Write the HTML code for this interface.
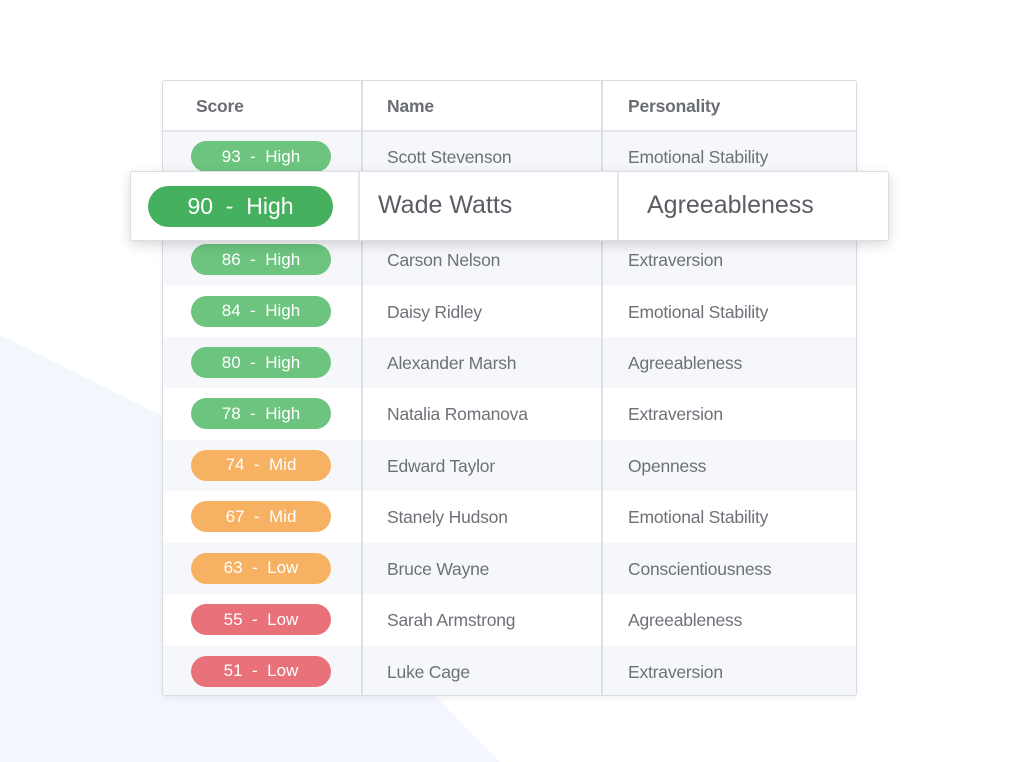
<!DOCTYPE html>
<html><head><meta charset="utf-8">
<style>
body{margin:0;width:1024px;height:762px;background:#fff;position:relative;overflow:hidden;font-family:"Liberation Sans",sans-serif;}
#bg{position:absolute;left:0;top:0}
#table{position:absolute;left:162px;top:80px;width:695px;height:616px;background:#fff;border:1px solid #d8dbe0;box-sizing:border-box;box-shadow:0 2px 6px rgba(0,0,0,0.06);border-radius:3px;overflow:hidden;z-index:1}
.row{position:absolute;left:0;width:695px;height:51.45px}
.cell{position:absolute;top:1px;height:100%;display:flex;align-items:center;color:#6d7177;font-size:17.5px;letter-spacing:-0.2px}
.vline{position:absolute;top:0;bottom:0;width:2px;background:#dcdfe4;z-index:2}
.hd{color:#6a6e74;font-size:17.5px;font-weight:bold;letter-spacing:-0.2px}
.pill{position:absolute;left:28px;width:140px;height:31px;border-radius:16px;color:#fff;font-size:17px;display:flex;align-items:center;justify-content:center;white-space:pre}
#popup{position:absolute;left:130px;top:171px;width:759px;height:70px;background:#fff;border:1px solid #dadde2;box-sizing:border-box;border-radius:3px;box-shadow:0 4px 12px rgba(0,0,0,0.15);z-index:10}
</style></head><body>
<svg id="bg" width="1024" height="762"><polygon points="0,335 160,415 435,696 500,762 0,762" fill="#f3f6fc"/></svg>
<div id="table">
  <div class="vline" style="left:198px"></div>
  <div class="vline" style="left:438px"></div>
  <div class="row" style="top:0;height:49px;border-bottom:2px solid #e3e5e9">
    <div class="cell hd" style="left:33px">Score</div>
    <div class="cell hd" style="left:224px">Name</div>
    <div class="cell hd" style="left:465px">Personality</div>
  </div>
</div>
<div id="popup">
  <div style="position:absolute;left:17px;top:14px;width:185px;height:41px;border-radius:21px;background:#45b15e;color:#fff;font-size:23px;display:flex;align-items:center;justify-content:center;white-space:pre">90  -  High</div>
  <div style="position:absolute;left:227px;top:0;bottom:0;width:2px;background:#e3e5e9"></div>
  <div style="position:absolute;left:486px;top:0;bottom:0;width:2px;background:#e3e5e9"></div>
  <div style="position:absolute;left:247px;top:0;height:66px;display:flex;align-items:center;font-size:25px;color:#5a5e64">Wade Watts</div>
  <div style="position:absolute;left:516px;top:0;height:66px;display:flex;align-items:center;font-size:25px;color:#5a5e64">Agreeableness</div>
</div>
<script>
const scores=[93,90,86,84,80,78,74,67,63,55,51];
const levels=["High","High","High","High","High","High","Mid","Mid","Low","Low","Low"];
const names=["Scott Stevenson","Wade Watts","Carson Nelson","Daisy Ridley","Alexander Marsh","Natalia Romanova","Edward Taylor","Stanely Hudson","Bruce Wayne","Sarah Armstrong","Luke Cage"];
const personalities=["Emotional Stability","Agreeableness","Extraversion","Emotional Stability","Agreeableness","Extraversion","Openness","Emotional Stability","Conscientiousness","Agreeableness","Extraversion"];
const table=document.getElementById('table');
const rowH=51.45;
for(let i=0;i<scores.length;i++){
  const r=document.createElement('div');
  r.className='row';
  
  
  r.style.top=(50+i*rowH)+'px';
  r.style.background=(i%2===0)?'#f5f7fb':'#fff';
  const s=scores[i],lv=levels[i];
  const col=s>=78?'#6cc47f':(s>=60?'#f7b162':'#e8717a');
  const p=document.createElement('div');
  p.className='pill';
  
  
  p.style.background=col;
  p.style.top=((rowH-31)/2)+'px';
  p.textContent=s+'  -  '+lv;
  r.appendChild(p);
  const n=document.createElement('div');
  n.className='cell';
  
  
  n.style.left='224px';
  n.textContent=names[i];
  r.appendChild(n);
  const q=document.createElement('div');
  q.className='cell';
  
  
  q.style.left='465px';
  q.textContent=personalities[i];
  r.appendChild(q);
  table.insertBefore(r,table.firstChild);
}
</script>
</body></html>
